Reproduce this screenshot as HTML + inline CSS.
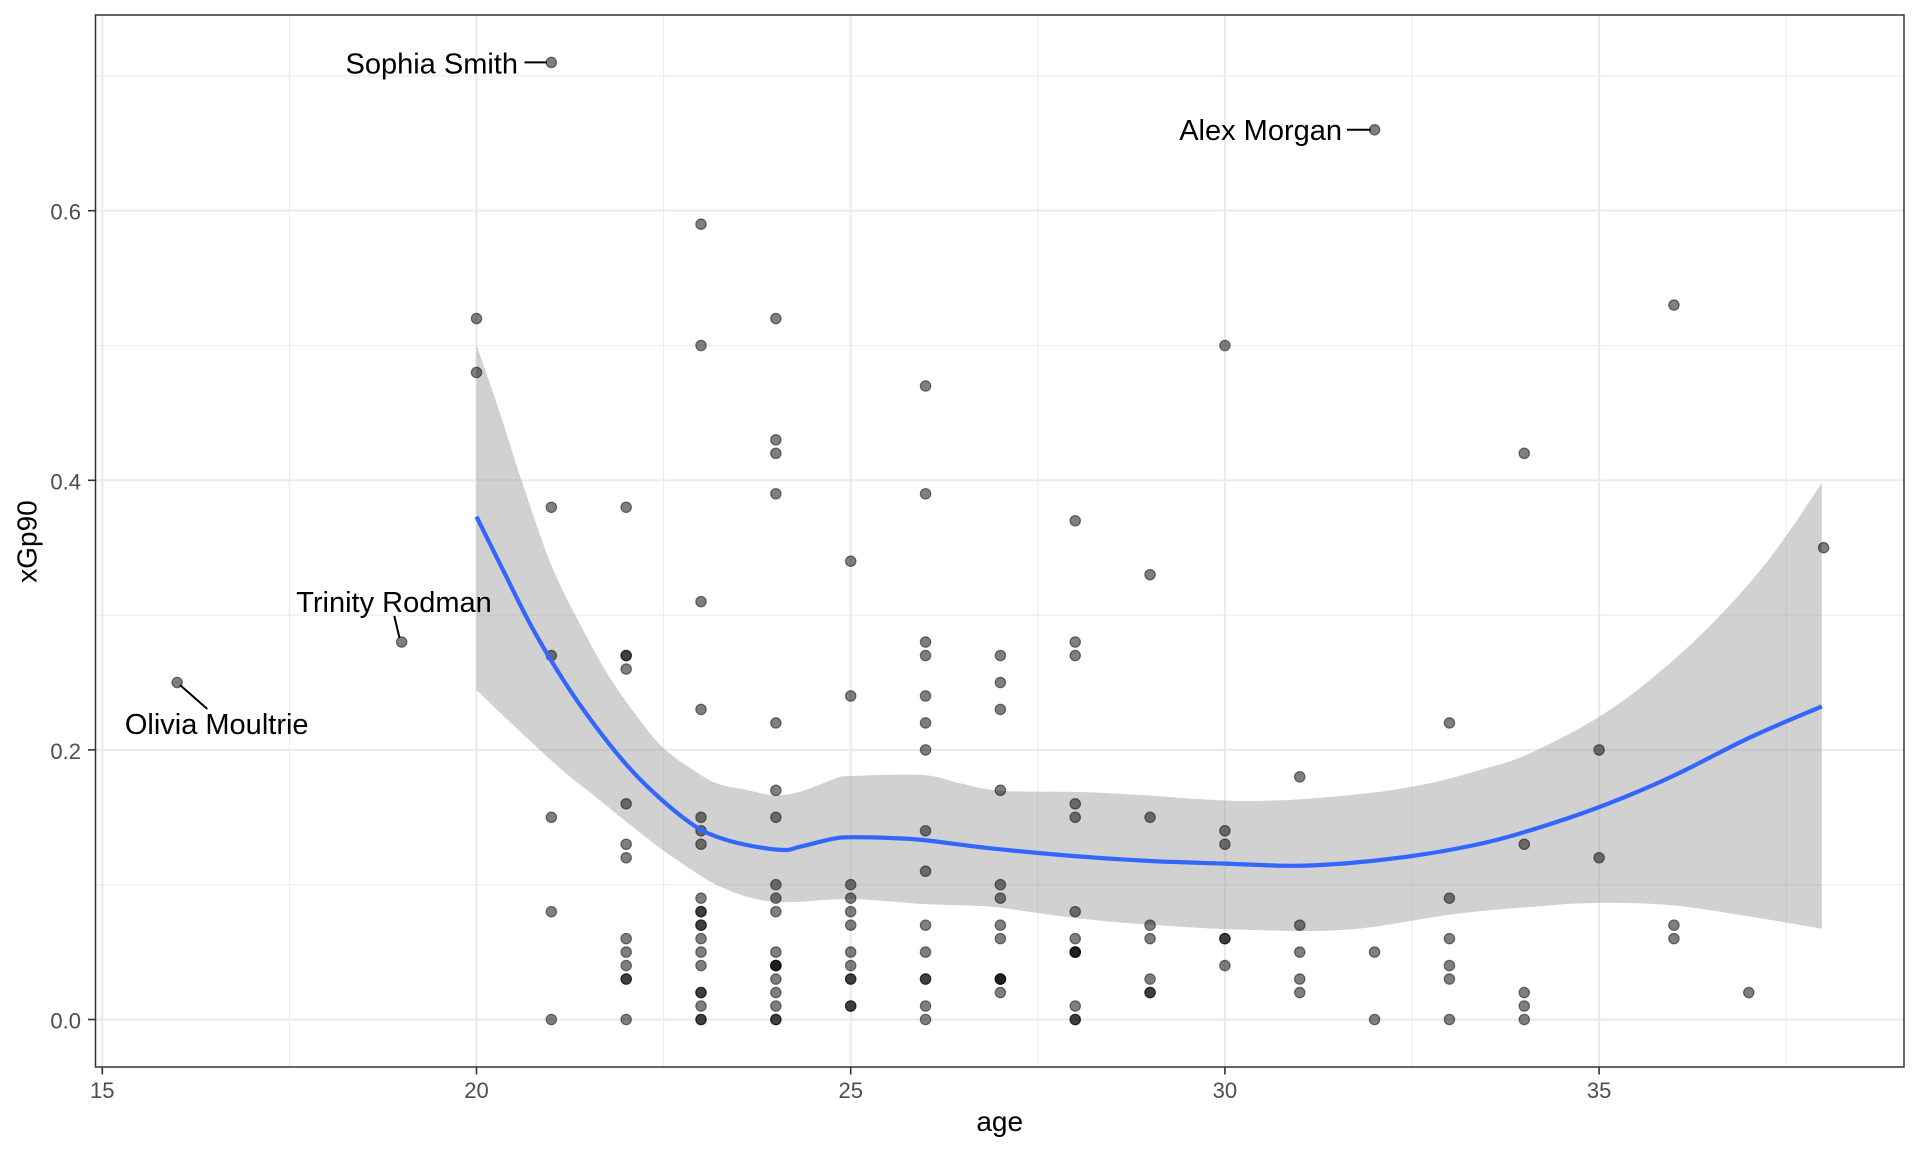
<!DOCTYPE html>
<html>
<head>
<meta charset="utf-8">
<style>
html,body{margin:0;padding:0;background:#fff;}
svg{display:block;}
text{font-family:"Liberation Sans",Arial,sans-serif;}
</style>
</head>
<body>
<svg id="chart" width="1920" height="1152" viewBox="0 0 1920 1152" xmlns="http://www.w3.org/2000/svg">
<rect x="0" y="0" width="1920" height="1152" fill="#fff"/>
<!-- minor grid -->
<g stroke="#ebebeb" stroke-width="1.1" fill="none">
<line x1="289.4" y1="15" x2="289.4" y2="1067"/>
<line x1="663.6" y1="15" x2="663.6" y2="1067"/>
<line x1="1037.8" y1="15" x2="1037.8" y2="1067"/>
<line x1="1412" y1="15" x2="1412" y2="1067"/>
<line x1="1786.2" y1="15" x2="1786.2" y2="1067"/>
<line x1="95.5" y1="884.7" x2="1904" y2="884.7"/>
<line x1="95.5" y1="615.1" x2="1904" y2="615.1"/>
<line x1="95.5" y1="345.5" x2="1904" y2="345.5"/>
<line x1="95.5" y1="75.9" x2="1904" y2="75.9"/>
</g>
<!-- major grid -->
<g stroke="#ebebeb" stroke-width="2.2" fill="none">
<line x1="102.3" y1="15" x2="102.3" y2="1067"/>
<line x1="476.5" y1="15" x2="476.5" y2="1067"/>
<line x1="850.7" y1="15" x2="850.7" y2="1067"/>
<line x1="1224.9" y1="15" x2="1224.9" y2="1067"/>
<line x1="1599.1" y1="15" x2="1599.1" y2="1067"/>
<line x1="95.5" y1="1019.5" x2="1904" y2="1019.5"/>
<line x1="95.5" y1="749.9" x2="1904" y2="749.9"/>
<line x1="95.5" y1="480.3" x2="1904" y2="480.3"/>
<line x1="95.5" y1="210.7" x2="1904" y2="210.7"/>
</g>
<!-- ribbon -->
<polygon id="ribbon" fill="#999999" fill-opacity="0.45" stroke="none" points="476.5,345 499,410 521.4,480 552,566.7 584.7,633 610,678 636.7,716 663.3,748 693.3,770 716.7,783.3 746.7,790 773.3,795 800,791.7 837,778 851,776 923,775 958.6,783 1001,790.7 1080,792 1140,795 1240.7,801 1330,797 1412,786.8 1480,770 1535,751 1615.6,706 1696,639.5 1765.6,563.6 1821.8,483 1821.8,928.7 1740,915 1669,905 1594,903 1530,907 1455,914 1347.8,929.6 1240.7,929.6 1140,924 1080,918.5 1037,913 990.7,906.7 923,904 851,899 800,901.7 773.3,901.7 746.7,896.7 716.7,885 693.3,871 660,848 626.7,822 593.3,795 560,768.3 511,723 476.5,690"/>
<!-- points -->
<g fill="#000" fill-opacity="0.5" stroke="#000" stroke-opacity="0.5" stroke-width="1.2">
<circle cx="177.14" cy="682.5" r="5.2"/>
<circle cx="401.66" cy="642.06" r="5.2"/>
<circle cx="476.5" cy="318.54" r="5.2"/>
<circle cx="476.5" cy="372.46" r="5.2"/>
<circle cx="551.34" cy="62.42" r="5.2"/>
<circle cx="551.34" cy="507.26" r="5.2"/>
<circle cx="551.34" cy="655.54" r="5.2"/>
<circle cx="551.34" cy="817.3" r="5.2"/>
<circle cx="551.34" cy="911.66" r="5.2"/>
<circle cx="551.34" cy="1019.5" r="5.2"/>
<!-- 22 -->
<circle cx="626.18" cy="507.26" r="5.2"/>
<circle cx="626.18" cy="655.54" r="5.2"/>
<circle cx="626.18" cy="655.54" r="5.2"/>
<circle cx="626.18" cy="669.02" r="5.2"/>
<circle cx="626.18" cy="803.82" r="5.2"/>
<circle cx="626.18" cy="844.26" r="5.2"/>
<circle cx="626.18" cy="857.74" r="5.2"/>
<circle cx="626.18" cy="938.62" r="5.2"/>
<circle cx="626.18" cy="952.1" r="5.2"/>
<circle cx="626.18" cy="965.58" r="5.2"/>
<circle cx="626.18" cy="979.06" r="5.2"/>
<circle cx="626.18" cy="979.06" r="5.2"/>
<circle cx="626.18" cy="1019.5" r="5.2"/>
<!-- 23 -->
<circle cx="701.02" cy="224.18" r="5.2"/>
<circle cx="701.02" cy="345.5" r="5.2"/>
<circle cx="701.02" cy="601.62" r="5.2"/>
<circle cx="701.02" cy="709.46" r="5.2"/>
<circle cx="701.02" cy="817.3" r="5.2"/>
<circle cx="701.02" cy="830.78" r="5.2"/>
<circle cx="701.02" cy="844.26" r="5.2"/>
<circle cx="701.02" cy="898.18" r="5.2"/>
<circle cx="701.02" cy="911.66" r="5.2"/>
<circle cx="701.02" cy="911.66" r="5.2"/>
<circle cx="701.02" cy="925.14" r="5.2"/>
<circle cx="701.02" cy="925.14" r="5.2"/>
<circle cx="701.02" cy="938.62" r="5.2"/>
<circle cx="701.02" cy="952.1" r="5.2"/>
<circle cx="701.02" cy="965.58" r="5.2"/>
<circle cx="701.02" cy="992.54" r="5.2"/>
<circle cx="701.02" cy="992.54" r="5.2"/>
<circle cx="701.02" cy="1006.02" r="5.2"/>
<circle cx="701.02" cy="1019.5" r="5.2"/>
<circle cx="701.02" cy="1019.5" r="5.2"/>
<!-- 24 -->
<circle cx="775.86" cy="318.54" r="5.2"/>
<circle cx="775.86" cy="439.86" r="5.2"/>
<circle cx="775.86" cy="453.34" r="5.2"/>
<circle cx="775.86" cy="493.78" r="5.2"/>
<circle cx="775.86" cy="722.94" r="5.2"/>
<circle cx="775.86" cy="790.34" r="5.2"/>
<circle cx="775.86" cy="817.3" r="5.2"/>
<circle cx="775.86" cy="884.7" r="5.2"/>
<circle cx="775.86" cy="898.18" r="5.2"/>
<circle cx="775.86" cy="911.66" r="5.2"/>
<circle cx="775.86" cy="952.1" r="5.2"/>
<circle cx="775.86" cy="965.58" r="5.2"/>
<circle cx="775.86" cy="965.58" r="5.2"/>
<circle cx="775.86" cy="965.58" r="5.2"/>
<circle cx="775.86" cy="979.06" r="5.2"/>
<circle cx="775.86" cy="992.54" r="5.2"/>
<circle cx="775.86" cy="1006.02" r="5.2"/>
<circle cx="775.86" cy="1019.5" r="5.2"/>
<circle cx="775.86" cy="1019.5" r="5.2"/>
<!-- 25 -->
<circle cx="850.7" cy="561.18" r="5.2"/>
<circle cx="850.7" cy="695.98" r="5.2"/>
<circle cx="850.7" cy="884.7" r="5.2"/>
<circle cx="850.7" cy="898.18" r="5.2"/>
<circle cx="850.7" cy="911.66" r="5.2"/>
<circle cx="850.7" cy="925.14" r="5.2"/>
<circle cx="850.7" cy="952.1" r="5.2"/>
<circle cx="850.7" cy="965.58" r="5.2"/>
<circle cx="850.7" cy="979.06" r="5.2"/>
<circle cx="850.7" cy="979.06" r="5.2"/>
<circle cx="850.7" cy="1006.02" r="5.2"/>
<circle cx="850.7" cy="1006.02" r="5.2"/>
<!-- 26 -->
<circle cx="925.54" cy="385.94" r="5.2"/>
<circle cx="925.54" cy="493.78" r="5.2"/>
<circle cx="925.54" cy="642.06" r="5.2"/>
<circle cx="925.54" cy="655.54" r="5.2"/>
<circle cx="925.54" cy="695.98" r="5.2"/>
<circle cx="925.54" cy="722.94" r="5.2"/>
<circle cx="925.54" cy="749.9" r="5.2"/>
<circle cx="925.54" cy="830.78" r="5.2"/>
<circle cx="925.54" cy="871.22" r="5.2"/>
<circle cx="925.54" cy="925.14" r="5.2"/>
<circle cx="925.54" cy="952.1" r="5.2"/>
<circle cx="925.54" cy="979.06" r="5.2"/>
<circle cx="925.54" cy="979.06" r="5.2"/>
<circle cx="925.54" cy="1006.02" r="5.2"/>
<circle cx="925.54" cy="1019.5" r="5.2"/>
<!-- 27 -->
<circle cx="1000.38" cy="655.54" r="5.2"/>
<circle cx="1000.38" cy="682.5" r="5.2"/>
<circle cx="1000.38" cy="709.46" r="5.2"/>
<circle cx="1000.38" cy="790.34" r="5.2"/>
<circle cx="1000.38" cy="884.7" r="5.2"/>
<circle cx="1000.38" cy="898.18" r="5.2"/>
<circle cx="1000.38" cy="925.14" r="5.2"/>
<circle cx="1000.38" cy="938.62" r="5.2"/>
<circle cx="1000.38" cy="979.06" r="5.2"/>
<circle cx="1000.38" cy="979.06" r="5.2"/>
<circle cx="1000.38" cy="979.06" r="5.2"/>
<circle cx="1000.38" cy="992.54" r="5.2"/>
<!-- 28 -->
<circle cx="1075.22" cy="520.74" r="5.2"/>
<circle cx="1075.22" cy="642.06" r="5.2"/>
<circle cx="1075.22" cy="655.54" r="5.2"/>
<circle cx="1075.22" cy="803.82" r="5.2"/>
<circle cx="1075.22" cy="817.3" r="5.2"/>
<circle cx="1075.22" cy="911.66" r="5.2"/>
<circle cx="1075.22" cy="938.62" r="5.2"/>
<circle cx="1075.22" cy="952.1" r="5.2"/>
<circle cx="1075.22" cy="952.1" r="5.2"/>
<circle cx="1075.22" cy="952.1" r="5.2"/>
<circle cx="1075.22" cy="1006.02" r="5.2"/>
<circle cx="1075.22" cy="1019.5" r="5.2"/>
<circle cx="1075.22" cy="1019.5" r="5.2"/>
<!-- 29 -->
<circle cx="1150.06" cy="574.66" r="5.2"/>
<circle cx="1150.06" cy="817.3" r="5.2"/>
<circle cx="1150.06" cy="925.14" r="5.2"/>
<circle cx="1150.06" cy="938.62" r="5.2"/>
<circle cx="1150.06" cy="979.06" r="5.2"/>
<circle cx="1150.06" cy="992.54" r="5.2"/>
<circle cx="1150.06" cy="992.54" r="5.2"/>
<!-- 30 -->
<circle cx="1224.9" cy="345.5" r="5.2"/>
<circle cx="1224.9" cy="830.78" r="5.2"/>
<circle cx="1224.9" cy="844.26" r="5.2"/>
<circle cx="1224.9" cy="938.62" r="5.2"/>
<circle cx="1224.9" cy="938.62" r="5.2"/>
<circle cx="1224.9" cy="965.58" r="5.2"/>
<!-- 31 -->
<circle cx="1299.74" cy="776.86" r="5.2"/>
<circle cx="1299.74" cy="925.14" r="5.2"/>
<circle cx="1299.74" cy="952.1" r="5.2"/>
<circle cx="1299.74" cy="979.06" r="5.2"/>
<circle cx="1299.74" cy="992.54" r="5.2"/>
<!-- 32 -->
<circle cx="1374.58" cy="129.82" r="5.2"/>
<circle cx="1374.58" cy="952.1" r="5.2"/>
<circle cx="1374.58" cy="1019.5" r="5.2"/>
<!-- 33 -->
<circle cx="1449.42" cy="722.94" r="5.2"/>
<circle cx="1449.42" cy="898.18" r="5.2"/>
<circle cx="1449.42" cy="938.62" r="5.2"/>
<circle cx="1449.42" cy="965.58" r="5.2"/>
<circle cx="1449.42" cy="979.06" r="5.2"/>
<circle cx="1449.42" cy="1019.5" r="5.2"/>
<!-- 34 -->
<circle cx="1524.26" cy="453.34" r="5.2"/>
<circle cx="1524.26" cy="844.26" r="5.2"/>
<circle cx="1524.26" cy="992.54" r="5.2"/>
<circle cx="1524.26" cy="1006.02" r="5.2"/>
<circle cx="1524.26" cy="1019.5" r="5.2"/>
<!-- 35 -->
<circle cx="1599.1" cy="749.9" r="5.2"/>
<circle cx="1599.1" cy="857.74" r="5.2"/>
<!-- 36 -->
<circle cx="1673.94" cy="305.06" r="5.2"/>
<circle cx="1673.94" cy="925.14" r="5.2"/>
<circle cx="1673.94" cy="938.62" r="5.2"/>
<!-- 37 -->
<circle cx="1748.78" cy="992.54" r="5.2"/>
<!-- 38 -->
<circle cx="1823.62" cy="547.7" r="5.2"/>
</g>
<!-- smooth line -->
<polyline id="smooth" fill="none" stroke="#3366FF" stroke-width="4.2" stroke-linejoin="round" stroke-linecap="butt" points="476.5,516.7 503,570 531.6,626.7 563.3,680 593.3,723.3 626.7,765 660,798.3 693.3,825 716.7,836.7 746.7,845 783.3,850 800,846.7 833.6,838.7 851,837.3 890,838 923,840 990.7,848.3 1073,856 1150,861 1224.6,863.6 1294,865.8 1350,863 1412,856 1470,846 1519,833.7 1594,809 1669,777.9 1749.5,737.7 1821.8,706.4"/>
<!-- label segments -->
<g stroke="#000" stroke-width="2" fill="none">
<line x1="524.5" y1="62.4" x2="547" y2="62.4"/>
<line x1="1347" y1="129.8" x2="1371" y2="129.8"/>
<line x1="394.3" y1="616" x2="399.5" y2="638"/>
<line x1="180" y1="685" x2="207.3" y2="709"/>
</g>
<!-- labels -->
<g font-size="29" fill="#000">
<text x="518" y="73.5" text-anchor="end">Sophia Smith</text>
<text x="1342" y="140" text-anchor="end">Alex Morgan</text>
<text x="394" y="612" text-anchor="middle">Trinity Rodman</text>
<text x="216.7" y="734" text-anchor="middle">Olivia Moultrie</text>
</g>
<!-- panel border -->
<rect x="95.5" y="15" width="1808.5" height="1052" fill="none" stroke="#333333" stroke-width="1.5"/>
<!-- ticks -->
<g stroke="#333333" stroke-width="1.6">
<line x1="88" y1="1019.5" x2="95.5" y2="1019.5"/>
<line x1="88" y1="749.9" x2="95.5" y2="749.9"/>
<line x1="88" y1="480.3" x2="95.5" y2="480.3"/>
<line x1="88" y1="210.7" x2="95.5" y2="210.7"/>
<line x1="102.3" y1="1067" x2="102.3" y2="1074.5"/>
<line x1="476.5" y1="1067" x2="476.5" y2="1074.5"/>
<line x1="850.7" y1="1067" x2="850.7" y2="1074.5"/>
<line x1="1224.9" y1="1067" x2="1224.9" y2="1074.5"/>
<line x1="1599.1" y1="1067" x2="1599.1" y2="1074.5"/>
</g>
<!-- tick labels -->
<g font-size="22" fill="#4d4d4d">
<text x="81" y="1028.5" text-anchor="end">0.0</text>
<text x="81" y="758.9" text-anchor="end">0.2</text>
<text x="81" y="489.3" text-anchor="end">0.4</text>
<text x="81" y="219.7" text-anchor="end">0.6</text>
<text x="102.3" y="1098" text-anchor="middle">15</text>
<text x="476.5" y="1098" text-anchor="middle">20</text>
<text x="850.7" y="1098" text-anchor="middle">25</text>
<text x="1224.9" y="1098" text-anchor="middle">30</text>
<text x="1599.1" y="1098" text-anchor="middle">35</text>
</g>
<!-- axis titles -->
<text x="999.7" y="1131" text-anchor="middle" font-size="28" fill="#000">age</text>
<text transform="translate(36.5,541.5) rotate(-90)" x="0" y="0" text-anchor="middle" font-size="28" fill="#000">xGp90</text>
</svg>
<script>
(function(){
  var NS="http://www.w3.org/2000/svg";
  function parse(s){
    return s.trim().split(/\s+/).map(function(p){var a=p.split(",");return [parseFloat(a[0]),parseFloat(a[1])];});
  }
  function cr(pts){
    var d="";
    for(var i=0;i<pts.length-1;i++){
      var p0=pts[i>0?i-1:i],p1=pts[i],p2=pts[i+1],p3=pts[i+2<pts.length?i+2:i+1];
      var c1x=p1[0]+(p2[0]-p0[0])/6,c1y=p1[1]+(p2[1]-p0[1])/6;
      var c2x=p2[0]-(p3[0]-p1[0])/6,c2y=p2[1]-(p3[1]-p1[1])/6;
      d+=" C"+c1x.toFixed(2)+","+c1y.toFixed(2)+" "+c2x.toFixed(2)+","+c2y.toFixed(2)+" "+p2[0].toFixed(2)+","+p2[1].toFixed(2);
    }
    return d;
  }
  try{
    var line=document.getElementById("smooth");
    var lp=parse(line.getAttribute("points"));
    var path=document.createElementNS(NS,"path");
    path.setAttribute("d","M"+lp[0][0]+","+lp[0][1]+cr(lp));
    ["fill","stroke","stroke-width","stroke-linejoin","stroke-linecap"].forEach(function(a){path.setAttribute(a,line.getAttribute(a));});
    line.parentNode.replaceChild(path,line);

    var rib=document.getElementById("ribbon");
    var rp=parse(rib.getAttribute("points"));
    var idx=-1;
    for(var i=1;i<rp.length;i++){ if(rp[i][0]===rp[i-1][0] && rp[i][0]>1800){idx=i;break;} }
    var up=rp.slice(0,idx), lo=rp.slice(idx);
    var d="M"+up[0][0]+","+up[0][1]+cr(up)+" L"+lo[0][0]+","+lo[0][1]+cr(lo)+" Z";
    var rpath=document.createElementNS(NS,"path");
    rpath.setAttribute("d",d);
    rpath.setAttribute("fill",rib.getAttribute("fill"));
    rpath.setAttribute("fill-opacity",rib.getAttribute("fill-opacity"));
    rpath.setAttribute("stroke","none");
    rib.parentNode.replaceChild(rpath,rib);
  }catch(e){}
})();
</script>
</body>
</html>
